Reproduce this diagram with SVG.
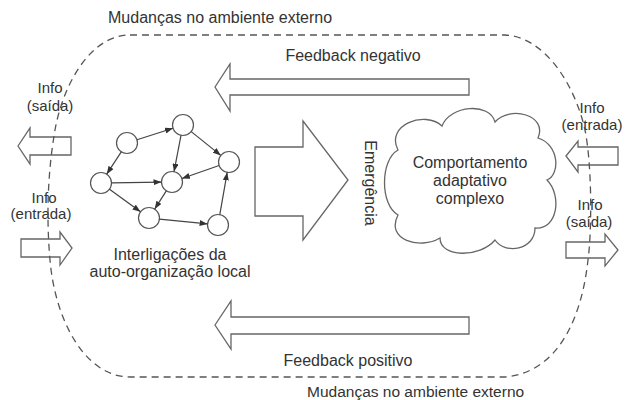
<svg xmlns="http://www.w3.org/2000/svg" width="625" height="400" viewBox="0 0 625 400">
<style>
text{font-family:"Liberation Sans",Arial,sans-serif;fill:#333;}
.t16{font-size:16px;}
.t15{font-size:15px;}
.mid{text-anchor:middle;}
.shape{fill:#fff;stroke:#666;stroke-width:1.3;stroke-linejoin:miter;}
.hollow{fill:none;stroke:#666;stroke-width:1.3;}
.node{fill:#fff;stroke:#555;stroke-width:1.2;}
.edge{fill:none;stroke:#444;stroke-width:1.2;marker-end:url(#ah);}
.bound{fill:none;stroke:#555;stroke-width:1.3;stroke-dasharray:7 5;}
</style>
<defs>
<marker id="ah" markerUnits="userSpaceOnUse" markerWidth="8" markerHeight="6" refX="8" refY="3" orient="auto">
<path d="M0,0 L8,3 L0,6 z" fill="#333"/>
</marker>
</defs>
<rect width="625" height="400" fill="#fff"/>

<g id="feedback-negativo">
<polygon class="shape" points="215,87 230,64 230,79 469,79 469,95 230,95 230,111"/>
<text class="t16 mid" x="353" y="61">Feedback negativo</text>
</g>
<g id="feedback-positivo">
<polygon class="shape" points="215,325 231,301 231,317 469,317 469,334 231,334 231,349"/>
<text class="t16 mid" x="348" y="366">Feedback positivo</text>
</g>

<g id="emergencia">
<polygon class="shape" points="255,147 303,147 303,121 348,180 303,240 303,216 255,216"/>
<text class="t16 mid" transform="translate(365,183) rotate(90)">Emergência</text>
</g>

<g id="cloud">
<path class="shape" d="M398 150 C385 125,425 110,442 126 C450 105,490 102,495 122 C510 105,548 115,538 138 C560 145,560 175,547 180 C562 195,558 230,535 228 C535 250,505 255,495 240 C480 258,440 258,440 238 C420 250,385 240,398 215 C380 205,380 160,398 150 Z"/>
<text class="t16 mid" x="470" y="168">Comportamento</text>
<text class="t16 mid" x="470" y="186">adaptativo</text>
<text class="t16 mid" x="470" y="204">complexo</text>
</g>

<g id="info-saida-left">
<polygon class="hollow" points="18,146 30,128 30,137 71,137 71,155 30,155 30,164"/>
<text class="t15 mid" x="50" y="93">Info</text>
<text class="t15 mid" x="50" y="111">(saída)</text>
</g>
<g id="info-entrada-left">
<polygon class="hollow" points="21,239 60,239 60,232 72,248 60,265 60,257 21,257"/>
<text class="t15 mid" x="44" y="203">Info</text>
<text class="t15 mid" x="41" y="219">(entrada)</text>
</g>
<g id="info-entrada-right">
<polygon class="hollow" points="566,156 578,141 578,147 618,147 618,165 578,165 578,172"/>
<text class="t15 mid" x="592" y="113">Info</text>
<text class="t15 mid" x="592" y="130">(entrada)</text>
</g>
<g id="info-saida-right">
<polygon class="hollow" points="566,242 605,242 605,234 618,250 605,266 605,258 566,258"/>
<text class="t15 mid" x="590" y="210">Info</text>
<text class="t15 mid" x="589" y="227">(saída)</text>
</g>

<g id="network">
<g id="n1"><circle class="node" cx="127" cy="143" r="10.5"/></g>
<g id="n2"><circle class="node" cx="183" cy="125" r="10.5"/></g>
<g id="n3"><circle class="node" cx="229" cy="162" r="10.5"/></g>
<g id="n4"><circle class="node" cx="101" cy="183" r="10.5"/></g>
<g id="n5"><circle class="node" cx="172" cy="182" r="10.5"/></g>
<g id="n6"><circle class="node" cx="149" cy="218" r="10.5"/></g>
<g id="n7"><circle class="node" cx="218" cy="225" r="10.5"/></g>
<text class="t16 mid" x="170" y="260">Interligações da</text>
<text class="t16 mid" x="170" y="277">auto-organização local</text>
</g>

<g id="connectors">
<line class="edge" x1="137" y1="139.8" x2="173" y2="128.2"/>
<line class="edge" x1="121.3" y1="151.8" x2="106.7" y2="174.2"/>
<line class="edge" x1="181" y1="135.3" x2="174" y2="171.7"/>
<line class="edge" x1="191.2" y1="131.6" x2="220.8" y2="155.4"/>
<line class="edge" x1="219.1" y1="165.5" x2="181.9" y2="178.5"/>
<line class="edge" x1="111.5" y1="182.9" x2="161.5" y2="182.1"/>
<line class="edge" x1="109.5" y1="189.2" x2="140.5" y2="211.8"/>
<line class="edge" x1="166.3" y1="190.9" x2="154.7" y2="209.1"/>
<line class="edge" x1="159.4" y1="219.1" x2="207.6" y2="223.9"/>
<line class="edge" x1="219.8" y1="214.7" x2="227.2" y2="172.3"/>
</g>

<g id="environment">
<path class="bound" d="M130 35 L505 35 C545 37,575 85,585 130 C592 165,592 230,588 260 C582 315,560 372,505 377 L130 377 C85 377,55 320,50 260 C46 215,48 170,55 130 C63 85,90 35,130 35 Z"/>
<text class="t16" x="108" y="23">Mudanças no ambiente externo</text>
<text class="t16" x="307" y="397" style="font-size:15.5px">Mudanças no ambiente externo</text>
</g>
</svg>
